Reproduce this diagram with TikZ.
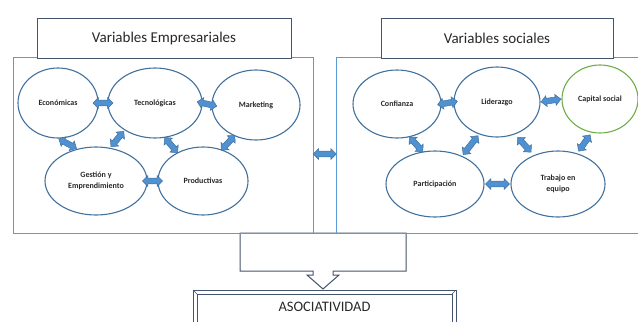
\documentclass[tikz,border=0pt]{standalone}
\usepackage{fontspec}
\setmainfont{Carlito}
\usetikzlibrary{shapes.geometric, shapes.arrows, calc, positioning}

\definecolor{ellcol}{RGB}{65,113,156}
\definecolor{arrfill}{RGB}{80,145,210}
\definecolor{framecol}{RGB}{91,155,213}
\definecolor{titlecol}{RGB}{68,84,106}
\definecolor{capgreen}{RGB}{112,173,71}
\definecolor{txtcol}{RGB}{40,40,40}

\begin{document}
\begin{tikzpicture}[x=1pt, y=-1pt,
    var/.style={ellipse, draw=ellcol, fill=white, line width=1.1pt, inner sep=0pt, align=center, font=\fontsize{8}{11.5}\selectfont\bfseries, text=txtcol},
    dbl/.style={double arrow, draw=ellcol, fill=arrfill, line width=0.5pt, minimum height=20pt, inner xsep=0pt, inner ysep=2.6pt, double arrow head extend=2.6pt},
    titlebox/.style={rectangle, draw=titlecol, fill=white, line width=1pt, inner sep=0pt, font=\fontsize{15}{18}\selectfont, text=txtcol},
    darkline/.style={draw=titlecol, line width=1pt},
    bigframe/.style={draw=framecol, line width=1pt}]
    \useasboundingbox (0,0) rectangle (638,322);

    % funnel to the result
    \draw[darkline, fill=white] (240,233) -- (406,233) -- (406,271) -- (333,271) -- (333,275) -- (339,275)
        -- (323,289) -- (307,275) -- (313,275) -- (313,271) -- (240,271) -- cycle;

    % frames
    \node[bigframe, rectangle, minimum width=300pt, minimum height=176pt, inner sep=0pt] (empbox) at (163,145) {};
    \draw[bigframe] (638,57) -| (336,233) -- (638,233);
    \coordinate (socw) at (336,145);

    \node[titlebox, minimum width=254pt, minimum height=40pt] (emptitle) at (164,38) {Variables Empresariales};
    \node[titlebox, minimum width=232pt, minimum height=40pt] (soctitle) at (497,38) {Variables sociales};

    % variables empresariales
    \node[var, minimum width=80pt, minimum height=70pt] (econ) at (58,103) {Económicas};
    \node[var, minimum width=94pt, minimum height=70pt] (tec) at (155,103) {Tecnológicas};
    \node[var, minimum width=88pt, minimum height=70pt] (mkt) at (256,105) {Marketing};
    \node[var, minimum width=102pt, minimum height=68pt] (gest) at (96,181) {Gestión y\\Emprendimiento};
    \node[var, minimum width=90pt, minimum height=68pt] (prod) at (203,181) {Productivas};

    % variables sociales
    \node[var, minimum width=88pt, minimum height=68pt] (conf) at (397,104) {Confianza};
    \node[var, minimum width=86pt, minimum height=70pt] (lid) at (497,102) {Liderazgo};
    \node[var, draw=capgreen, minimum width=76pt, minimum height=68pt] (cap) at (600,99) {Capital social};
    \node[var, minimum width=98pt, minimum height=66pt] (part) at (435,184) {Participación};
    \node[var, minimum width=94pt, minimum height=66pt] (trab) at (558,184) {Trabajo en\\equipo};

    % double arrows
    \path (econ.east) -- (tec.west) node[dbl, midway, sloped] (et) {};
    \path (tec.east) -- (mkt.west) node[dbl, midway, sloped] (tm) {};
    \path (gest.east) -- (prod.west) node[dbl, midway, sloped] (gp) {};
    \path (econ.south) -- (gest.120) node[dbl, midway, sloped] (eg) {};
    \path (gest.67) -- (tec.222) node[dbl, midway, sloped] (gt) {};
    \path (tec.-74) -- (prod.132) node[dbl, midway, sloped] (tp) {};
    \path (mkt.235) -- (prod.59) node[dbl, midway, sloped] (mp) {};

    \path (conf.east) -- (lid.west) node[dbl, midway, sloped] (cl) {};
    \path (lid.east) -- (cap.west) node[dbl, midway, sloped] (lc) {};
    \path (part.east) -- (trab.west) node[dbl, midway, sloped, minimum height=24pt] (pt) {};
    \path (conf.-69) -- (part.111) node[dbl, midway, sloped] (cp) {};
    \path (part.46) -- (lid.241) node[dbl, midway, sloped, minimum height=24pt] (pl) {};
    \path (lid.-61) -- (trab.130) node[dbl, midway, sloped] (lt) {};
    \path (cap.256) -- (trab.58) node[dbl, midway, sloped] (ct) {};

    \path ([yshift=-9pt]empbox.east) -- ([yshift=-9pt]socw) node[dbl, midway, minimum height=23pt] (mid) {};

    % result
    \node[font=\fontsize{14.5}{17}\selectfont, text=txtcol] (asoc) at (324.5,307) {ASOCIATIVIDAD};
    \draw[darkline] (193,322) |- (456,290) -- (456,322);
    \draw[darkline, line width=0.6pt] (197,322) |- (452,294) -- (452,322);
    \draw[darkline, line width=0.6pt] (193,290) -- (197,294) (456,290) -- (452,294);
\end{tikzpicture}
\end{document}
